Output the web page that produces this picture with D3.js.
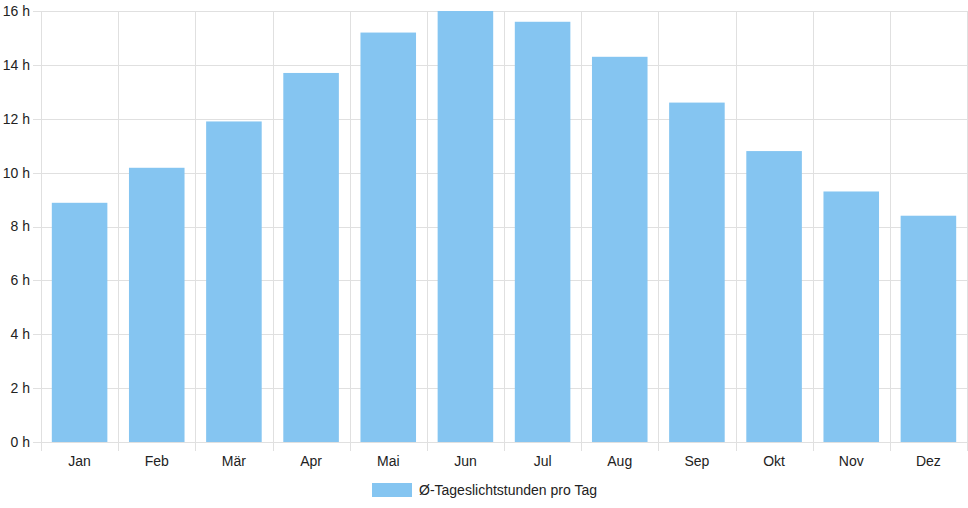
<!DOCTYPE html>
<html>
  <head>
    <meta charset="utf-8">
    <style>
      body { margin: 0; background: #fff; }
      svg { display: block; font-family: "Liberation Sans", Arial, sans-serif; }
      .grid line { stroke: #e0e0e0; stroke-width: 1px; shape-rendering: crispEdges; }
      .axis text { font-size: 14px; fill: #222; }
      .bar { fill: #85c5f1; }
      .legend text { font-size: 14px; fill: #222; }
    </style>
  </head>
  <body>
    <svg></svg>
    <script src="https://cdnjs.cloudflare.com/ajax/libs/d3/7.8.5/d3.min.js"></script>
    <script>
      var months = ['Jan', 'Feb', 'Mär', 'Apr', 'Mai', 'Jun', 'Jul', 'Aug', 'Sep', 'Okt', 'Nov', 'Dez'];
      var hours = [8.88, 10.18, 11.9, 13.7, 15.2, 16.0, 15.6, 14.3, 12.6, 10.8, 9.3, 8.4];
      var yTicks = [0, 2, 4, 6, 8, 10, 12, 14, 16];
      var seriesName = 'Ø-Tageslichtstunden pro Tag';

      var width = 968, height = 508,
          plotLeft = 41, plotRight = 967, plotTop = 11, plotBottom = 442;

      var svg = d3.select('svg').attr('width', width).attr('height', height);

      var x = d3.scaleBand().domain(months).range([plotLeft, plotRight]);
      var y = d3.scaleLinear().domain([0, 16]).range([plotBottom, plotTop]);

      var grid = svg.append('g').attr('class', 'grid');

      // horizontal grid lines, with a short tick on the left
      grid.selectAll('.h').data(yTicks).enter().append('line')
          .attr('x1', plotLeft - 8).attr('x2', plotRight)
          .attr('y1', function(d){ return Math.round(y(d)) + 0.5; })
          .attr('y2', function(d){ return Math.round(y(d)) + 0.5; });

      // vertical grid lines at category edges, extending below the axis
      var edges = months.map(function(m){ return x(m); }).concat([plotRight]);
      grid.selectAll('.v').data(edges).enter().append('line')
          .attr('x1', function(d){ return Math.round(d) + 0.5; })
          .attr('x2', function(d){ return Math.round(d) + 0.5; })
          .attr('y1', plotTop).attr('y2', plotBottom + 9);

      // bars
      var bw = x.bandwidth() * 0.72;
      svg.selectAll('.bar').data(hours).enter().append('rect')
          .attr('class', 'bar')
          .attr('x', function(d, i){ return x(months[i]) + (x.bandwidth() - bw) / 2; })
          .attr('width', bw)
          .attr('y', function(d){ return y(d); })
          .attr('height', function(d){ return y(0) - y(d); });

      // y labels
      var yAxis = svg.append('g').attr('class', 'axis');
      yAxis.selectAll('text').data(yTicks).enter().append('text')
          .attr('x', plotLeft - 11)
          .attr('y', function(d){ return y(d); })
          .attr('dy', '0.35em')
          .attr('text-anchor', 'end')
          .text(function(d){ return d + ' h'; });

      // x labels
      var xAxis = svg.append('g').attr('class', 'axis');
      xAxis.selectAll('text').data(months).enter().append('text')
          .attr('x', function(d){ return x(d) + x.bandwidth() / 2; })
          .attr('y', plotBottom + 24)
          .attr('text-anchor', 'middle')
          .text(function(d){ return d; });

      // legend
      var lg = svg.append('g').attr('class', 'legend');
      lg.append('rect').attr('x', 372).attr('y', 483).attr('width', 40).attr('height', 14)
        .attr('class', 'bar');
      lg.append('text').attr('x', 419).attr('y', 490).attr('dy', '0.35em').text(seriesName);
    </script>
  </body>
</html>
